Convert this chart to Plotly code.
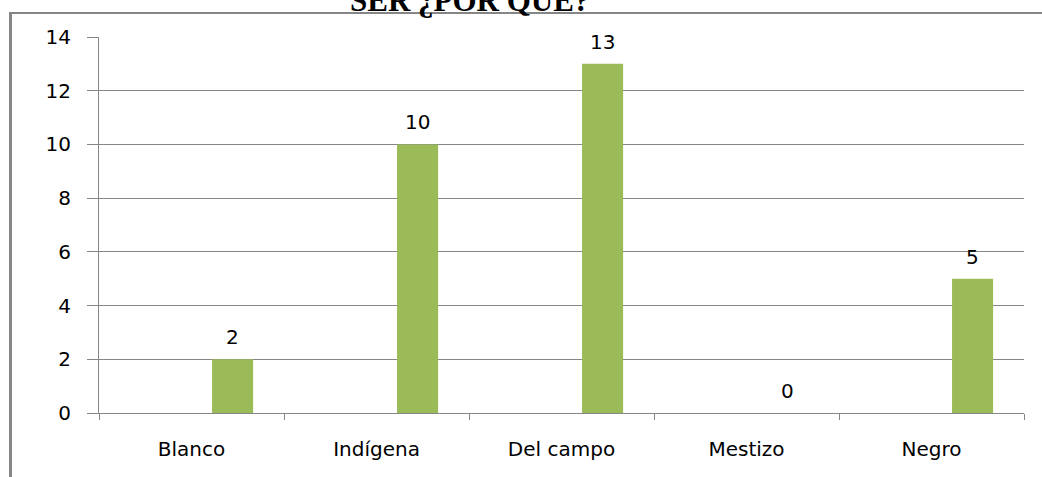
import plotly.graph_objects as go

categories = ["Blanco", "Indígena", "Del campo", "Mestizo", "Negro"]
values = [2, 10, 13, 0, 5]
y_ticks = [0, 2, 4, 6, 8, 10, 12, 14]
title_text = "SER ¿POR QUÉ?"

W, H = 1042, 477
L, R, T, B = 99, 18, 37, 64
pw, ph = W - L - R, H - T - B

def px_x(p):
    return (p - L) / pw

def px_y(p):
    return (H - B - p) / ph

grey = "#868686"
bar_color = "#9BBB59"
font_family = "DejaVu Sans"
fs = 20

fig = go.Figure()
fig.add_trace(go.Bar(
    x=categories, y=values,
    width=0.222, offset=0.111,
    marker=dict(color=bar_color, line=dict(width=0)),
    hoverinfo="skip",
))

annotations = []
for c, v in zip(categories, values):
    annotations.append(dict(
        x=c, y=v, xref="x", yref="y", text=str(v), showarrow=False,
        xshift=0.222 * pw / 5, yshift=22, yanchor="middle",
        font=dict(family=font_family, size=fs, color="#000000"),
    ))
annotations.append(dict(
    x=px_x(469), y=px_y(20), xref="paper", yref="paper",
    text="<b>" + title_text + "</b>", showarrow=False,
    xanchor="center", yanchor="bottom",
    font=dict(family="Liberation Serif", size=31, color="#000000"),
))

shapes = [
    dict(type="line", xref="paper", yref="paper",
         x0=px_x(9), x1=px_x(1045), y0=px_y(13), y1=px_y(13),
         line=dict(color=grey, width=2)),
    dict(type="line", xref="paper", yref="paper",
         x0=px_x(10.5), x1=px_x(10.5), y0=px_y(12), y1=px_y(480),
         line=dict(color=grey, width=3)),
]

fig.update_layout(
    width=W, height=H,
    margin=dict(l=L, r=R, t=T, b=B, pad=0),
    paper_bgcolor="white", plot_bgcolor="white",
    showlegend=False,
    annotations=annotations,
    shapes=shapes,
    font=dict(family=font_family, size=fs, color="#000000"),
    xaxis=dict(
        type="category", range=[-0.5, 4.5],
        showgrid=False, showline=True, linecolor=grey, linewidth=1,
        ticks="outside", tickson="boundaries", ticklen=6, tickcolor=grey, tickwidth=1,
        ticklabelstandoff=18,
        tickfont=dict(family=font_family, size=fs, color="#000000"),
        fixedrange=True,
    ),
    yaxis=dict(
        range=[0, 14], tickvals=y_ticks,
        showgrid=True, gridcolor=grey, gridwidth=1,
        showline=True, linecolor=grey, linewidth=1,
        ticks="outside", ticklen=11, tickcolor=grey, tickwidth=1,
        ticklabelstandoff=12,
        zeroline=False,
        tickfont=dict(family=font_family, size=fs, color="#000000"),
        fixedrange=True,
    ),
)

fig.write_html(
    "out.html",
    config={"displayModeBar": False, "staticPlot": True},
    post_script="document.body.style.margin='0';document.body.style.overflow='hidden';",
)
